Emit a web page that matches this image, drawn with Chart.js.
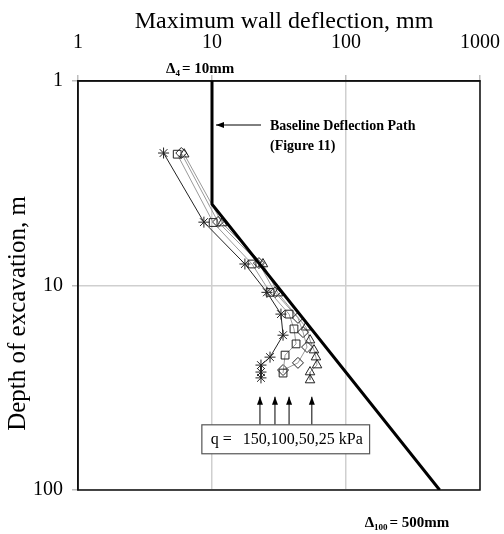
<!DOCTYPE html>
<html>
<head>
<meta charset="utf-8">
<script src="https://cdn.jsdelivr.net/npm/chart.js@4.4.0/dist/chart.umd.min.js"></script>
<style>
html,body{margin:0;padding:0;background:#fff;}
</style>
</head>
<body>
<canvas id="grafico" width="504" height="534"></canvas>
<script>
const xTicks = [1, 10, 100, 1000]
const yTicks = [1, 10, 100]

// q = 150 kPa (asterisks)
const q150x = [4.35, 8.7, 17.6, 25.7, 32.7, 33.9, 27.1, 23.2, 23.2, 23.2]
const q150y = [2.25, 4.9, 7.85, 10.8, 13.8, 17.5, 22.4, 24.5, 26.5, 28.3]
// q = 100 kPa (squares)
const q100x = [5.5, 10.2, 19.9, 27.1, 37.6, 40.9, 42.4, 35.1, 33.9]
const q100y = [2.28, 4.92, 7.85, 10.8, 13.8, 16.3, 19.3, 21.9, 26.8]
// q = 50 kPa (diamonds)
const q50x = [5.9, 11.1, 22.4, 29.5, 43.8, 47.8, 51.2, 43.8, 33.9]
const q50y = [2.25, 4.89, 7.77, 10.8, 14.4, 16.9, 20.0, 23.9, 25.9]
// q = 25 kPa (triangles)
const q25x = [6.2, 11.9, 24.0, 31.1, 50.3, 53.9, 57.7, 59.7, 60.8, 53.9, 53.9]
const q25y = [2.28, 4.95, 7.85, 10.9, 16.0, 18.5, 20.7, 22.4, 24.5, 26.5, 29.0]

// baseline deflection path
const baseX = [10, 10, 500]
const baseY = [1, 4, 100]

const serif = '"Liberation Serif", "Times New Roman", serif'

function pts(xs, ys) {
  return xs.map((x, i) => ({x: x, y: ys[i]}))
}

function serie(xs, ys, estilo, cor) {
  return {
    data: pts(xs, ys),
    showLine: true,
    borderColor: cor,
    borderWidth: 1,
    pointStyle: estilo,
    pointRadius: 5.5,
    pointBorderColor: '#222',
    pointBackgroundColor: 'rgba(0,0,0,0)',
    pointBorderWidth: 1
  }
}

const moldura = {
  id: 'moldura',
  beforeDatasetsDraw(chart) {
    const a = chart.chartArea
    const c = chart.ctx
    c.save()
    c.strokeStyle = '#111'
    c.lineWidth = 1.5
    c.strokeRect(a.left, a.top, a.right - a.left, a.bottom - a.top)
    c.restore()
  }
}

function seta(c, x1, y1, x2, y2) {
  // line from (x1,y1) to tip (x2,y2)
  const ang = Math.atan2(y2 - y1, x2 - x1)
  c.beginPath()
  c.moveTo(x1, y1)
  c.lineTo(x2, y2)
  c.stroke()
  c.beginPath()
  c.moveTo(x2, y2)
  c.lineTo(x2 - 8 * Math.cos(ang) + 3 * Math.sin(ang), y2 - 8 * Math.sin(ang) - 3 * Math.cos(ang))
  c.lineTo(x2 - 8 * Math.cos(ang) - 3 * Math.sin(ang), y2 - 8 * Math.sin(ang) + 3 * Math.cos(ang))
  c.closePath()
  c.fill()
}

function delta(c, x, y, sub, resto) {
  c.font = 'bold 15px ' + serif
  c.fillText('\u0394', x, y)
  x += c.measureText('\u0394').width
  c.font = 'bold 9px ' + serif
  c.fillText(sub, x, y + 3)
  x += c.measureText(sub).width + 2
  c.font = 'bold 15px ' + serif
  c.fillText(resto, x, y)
}

const notas = {
  id: 'notas',
  afterDraw(chart) {
    const c = chart.ctx
    const sx = chart.scales.x
    const sy = chart.scales.y
    const a = chart.chartArea
    c.save()
    c.fillStyle = '#000'
    c.strokeStyle = '#000'

    // axis titles
    c.textAlign = 'center'
    c.textBaseline = 'middle'
    c.font = '24px ' + serif
    c.fillText('Maximum wall deflection, mm', (a.left + a.right) / 2 + 5, 22)
    c.save()
    c.translate(18, (a.top + a.bottom) / 2 + 28)
    c.rotate(-Math.PI / 2)
    c.font = '25px ' + serif
    c.fillText('Depth of excavation, m', 0, 0)
    c.restore()

    // delta labels
    c.textAlign = 'left'
    c.textBaseline = 'alphabetic'
    delta(c, sx.getPixelForValue(10) - 46, 73, '4', '= 10mm')
    delta(c, sx.getPixelForValue(500) - 75, 527, '100', '= 500mm')

    // baseline callout
    c.font = 'bold 14px ' + serif
    c.fillText('Baseline Deflection Path', 270, 130)
    c.fillText('(Figure 11)', 270, 150)
    c.lineWidth = 1
    seta(c, 261, 125, sx.getPixelForValue(10) + 4, 125)

    // q arrows
    const setasX = [22.8, 29.5, 37.6, 55.6]
    const yBase = sy.getPixelForValue(48)
    const yTopo = sy.getPixelForValue(35)
    setasX.forEach(v => {
      const px = sx.getPixelForValue(v)
      seta(c, px, yBase, px, yTopo)
    })

    // q box
    const bx1 = sx.getPixelForValue(8.4)
    const bx2 = sx.getPixelForValue(150)
    const by1 = sy.getPixelForValue(48)
    const by2 = sy.getPixelForValue(66.5)
    c.fillStyle = '#fff'
    c.fillRect(bx1, by1, bx2 - bx1, by2 - by1)
    c.strokeStyle = '#555'
    c.lineWidth = 1.2
    c.strokeRect(bx1, by1, bx2 - bx1, by2 - by1)
    c.fillStyle = '#000'
    c.font = '16px ' + serif
    c.textBaseline = 'middle'
    c.fillText('q =', bx1 + 9, (by1 + by2) / 2 + 1)
    c.fillText('150,100,50,25 kPa', bx1 + 41, (by1 + by2) / 2 + 1)
    c.restore()
  }
}

const ctx = document.getElementById('grafico')

new Chart(ctx, {
  type: 'scatter',
  data: {
    datasets: [
      {
        data: pts(baseX, baseY),
        showLine: true,
        borderColor: '#000',
        borderWidth: 3,
        pointRadius: 0
      },
      serie(q150x, q150y, 'star', '#222'),
      serie(q100x, q100y, 'rect', '#999'),
      serie(q50x, q50y, 'rectRot', '#999'),
      serie(q25x, q25y, 'triangle', '#999')
    ]
  },
  options: {
    responsive: false,
    animation: false,
    layout: {padding: {top: 0, left: 0, right: 24, bottom: 44}},
    plugins: {legend: {display: false}, tooltip: {enabled: false}},
    scales: {
      x: {
        type: 'logarithmic',
        position: 'top',
        min: 1,
        max: 1000,
        afterBuildTicks: s => { s.ticks = xTicks.map(v => ({value: v})) },
        afterFit: s => { s.height = 81; s.paddingLeft = 0; s.paddingRight = 0 },
        ticks: {
          font: {family: serif, size: 20},
          color: '#000',
          padding: 20,
          maxRotation: 0,
          autoSkip: false,
          callback: v => String(v)
        },
        grid: {color: '#cfcfcf', lineWidth: 1.5, tickLength: 6, tickColor: '#bdbdbd'},
        border: {color: '#111', width: 1.5}
      },
      y: {
        type: 'logarithmic',
        reverse: true,
        min: 1,
        max: 100,
        afterBuildTicks: s => { s.ticks = yTicks.map(v => ({value: v})) },
        afterFit: s => { s.width = 78; s.paddingTop = 0; s.paddingBottom = 0 },
        ticks: {
          font: {family: serif, size: 20},
          color: '#000',
          padding: 9,
          autoSkip: false,
          callback: v => String(v)
        },
        grid: {color: '#cfcfcf', lineWidth: 1.5, tickLength: 6, tickColor: '#bdbdbd'},
        border: {color: '#111', width: 1.5}
      }
    }
  },
  plugins: [moldura, notas]
})
</script>
</body>
</html>
